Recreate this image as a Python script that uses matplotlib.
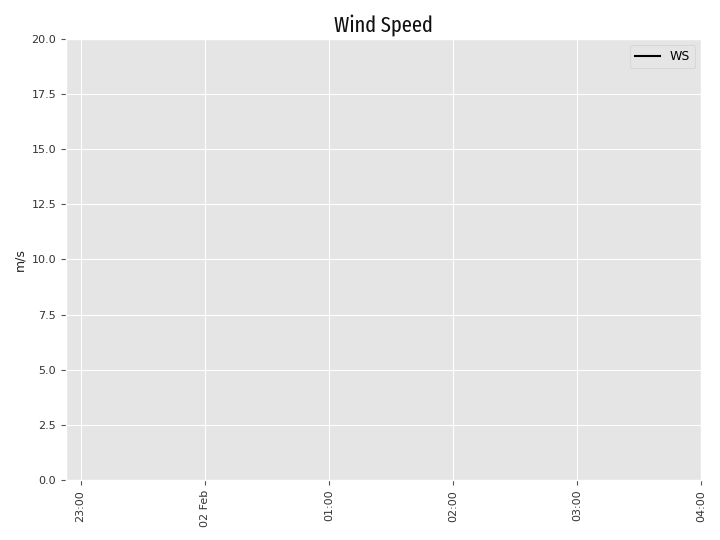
import numpy as np
import pandas as pd
import matplotlib
matplotlib.use('Agg')
import matplotlib.pyplot as plt
import matplotlib.dates as mdates

plt.style.use('ggplot')

# no valid readings in this window -> series is all NaN
times = pd.to_datetime(['2021-02-01 22:53', '2021-02-01 23:30', '2021-02-02 00:30',
                        '2021-02-02 01:30', '2021-02-02 02:30', '2021-02-02 03:30',
                        '2021-02-02 04:00'])
ws = [np.nan, np.nan, np.nan, np.nan, np.nan, np.nan, np.nan]
tick_times = pd.date_range('2021-02-01 23:00', '2021-02-02 04:00', freq='h')
y_lim = (0, 20)

fig = plt.figure(figsize=(7.2, 5.4), dpi=100)
ax = fig.add_axes([0.0917, 0.111, 0.8823, 0.817])

ax.plot(times, ws, color='k', lw=1.5, label='WS')
ax.set_xlim(times[0], times[-1])
ax.set_ylim(*y_lim)
ax.set_yticks(np.arange(0, 20.1, 2.5))

def fmt(x, pos=None):
    d = mdates.num2date(x)
    if d.hour == 0 and d.minute == 0:
        return d.strftime('%d %b')
    return d.strftime('%H:%M')

ax.set_xticks(tick_times)
ax.xaxis.set_major_formatter(plt.FuncFormatter(fmt))
ax.tick_params(axis='x', labelrotation=90, labelsize=8, labelcolor='#333333')
ax.tick_params(axis='y', labelsize=8, labelcolor='#333333')
ax.set_ylabel('m/s', fontsize=9, color='#222222')
ax.set_title('Wind Speed', fontsize=16, family=['Fira Sans Extra Condensed', 'DejaVu Sans'],
             fontweight='normal', color='#111111', pad=5)
ax.legend(loc='upper right', fontsize=9)

fig.savefig('out.png', dpi=100)
